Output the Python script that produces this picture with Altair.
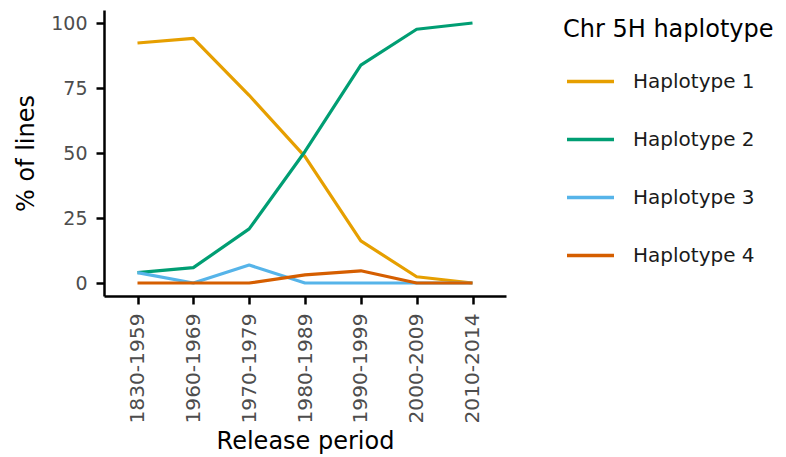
import altair as alt
import pandas as pd

periods = ["1830-1959", "1960-1969", "1970-1979", "1980-1989", "1990-1999", "2000-2009", "2010-2014"]
haplotypes = ["Haplotype 1", "Haplotype 2", "Haplotype 3", "Haplotype 4"]
h1 = [92.3, 94.1, 72.2, 48.6, 16.2, 2.4, 0.0]
h2 = [4.0, 5.9, 20.8, 50.6, 83.8, 97.6, 100.0]
h3 = [4.0, 0.0, 6.9, 0.0, 0.0, 0.0, 0.0]
h4 = [0.0, 0.0, 0.0, 3.1, 4.7, 0.0, 0.0]
colors = ["#E69F00", "#009E73", "#56B4E9", "#D55E00"]

rows = []
for name, vals in zip(haplotypes, [h1, h2, h3, h4]):
    for p, v in zip(periods, vals):
        rows.append({"period": p, "haplotype": name, "pct": v})
df = pd.DataFrame(rows)

chart = alt.Chart(df).mark_line(strokeWidth=3.2, strokeCap="butt", strokeJoin="round").encode(
    x=alt.X("period:N", sort=periods, title="Release period",
            scale=alt.Scale(type="point", padding=0.6),
            axis=alt.Axis(labelAngle=-90, labelAlign="right", labelBaseline="middle",
                          labelFontSize=20.2, labelPadding=9, titlePadding=6)),
    y=alt.Y("pct:Q", title="% of lines",
            scale=alt.Scale(domain=[-5, 105], nice=False, zero=False),
            axis=alt.Axis(values=[0, 25, 50, 75, 100], labelFontSize=19,
                          labelPadding=9, titlePadding=12)),
    color=alt.Color("haplotype:N", scale=alt.Scale(domain=haplotypes, range=colors),
                    legend=alt.Legend(title="Chr 5H haplotype", orient="none",
                                      legendX=459, legendY=8,
                                      symbolType="stroke", symbolSize=2209,
                                      symbolStrokeWidth=3.5, symbolOffset=2,
                                      labelOffset=17, rowPadding=22,
                                      titlePadding=14, padding=0,
                                      titleLimit=400, labelLimit=300,
                                      titleFontSize=24, titleFontWeight="normal",
                                      labelFontSize=20, titleColor="black",
                                      labelColor="#1A1A1A",
                                      titleFont="DejaVu Sans", labelFont="DejaVu Sans")),
).properties(
    width=402, height=286,
    autosize=alt.AutoSizeParams(type="none"),
    padding={"left": 96, "top": 2, "right": 268, "bottom": 160},
).configure_view(stroke=None).configure_axis(
    grid=False, domainColor="black", domainWidth=2.5, tickColor="black",
    tickWidth=2.5, tickSize=8, labelFont="DejaVu Sans", titleFont="DejaVu Sans",
    titleFontSize=24, titleFontWeight="normal",
    labelColor="#4D4D4D", titleColor="black",
)

chart.save("out.html", embed_options={"renderer": "svg", "actions": False})
